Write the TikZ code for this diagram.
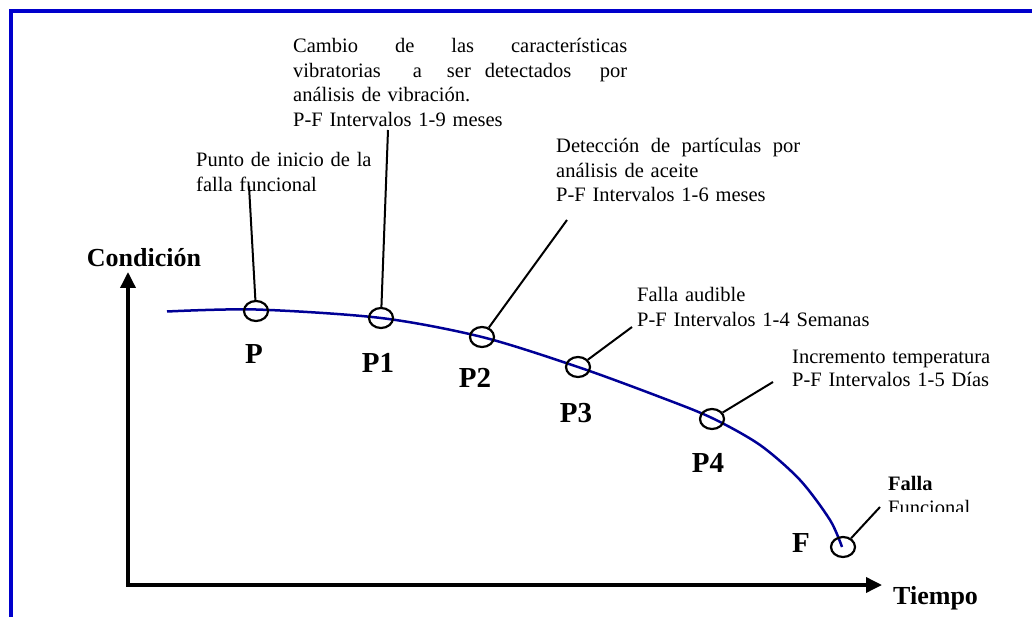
\documentclass[tikz,border=0pt]{standalone}
\usepackage{fontspec}
\setmainfont{Liberation Serif}
\usetikzlibrary{shapes.geometric,arrows.meta}
\definecolor{framecol}{RGB}{0,0,204}
\definecolor{curvecol}{RGB}{0,0,150}
\begin{document}
\begin{tikzpicture}[x=1pt,y=-1pt,
  ring/.style={draw, ellipse, line width=2.2pt, minimum width=24pt, minimum height=20pt, inner sep=0pt},
  lead/.style={draw, line width=2pt},
  note/.style={anchor=base west, inner sep=0pt, align=left, font=\fontsize{20.5}{24.5}\selectfont},
  lbl/.style={anchor=base, inner sep=0pt, font=\fontsize{29}{29}\selectfont\bfseries},
  axlbl/.style={inner sep=0pt, font=\fontsize{26}{26}\selectfont\bfseries},
  axis/.style={line width=3.5pt, -{Triangle[length=16pt,width=15pt]}},
  frame/.style={draw=framecol, line width=4pt}]
\useasboundingbox (0,0) rectangle (1032,617);
% frame
\draw[frame] (11,617) -- (11,11) -- (1032,11);
% axes
\coordinate (O) at (128,585);
\coordinate (ytip) at (128,272);
\coordinate (xtip) at (882,585);
\draw[axis] (O) -- (ytip);
\draw[axis] ([xshift=-1.75pt]O) -- (xtip);
\node[axlbl, anchor=base] (cond) at (144,266.7) {Condición};
\node[axlbl, anchor=base west] (tiempo) at (893,604) {Tiempo};
% curve
\draw[curvecol, line width=2.5pt] plot[smooth, tension=0.5] coordinates
  {(167,311.5) (256,309.5) (381,318) (482,337) (578,367) (660,397) (712,418) (760,445) (800,480) (830,520) (842,547)};
% circles
\node[ring] (P)  at (256,311) {};
\node[ring] (P1) at (381,318) {};
\node[ring] (P2) at (482,337) {};
\node[ring] (P3) at (578,367) {};
\node[ring] (P4) at (712,419) {};
\node[ring] (F)  at (843,547) {};
% labels
\node[lbl] (lP)  at (254,363) {P};
\node[lbl] (lP1) at (378,372) {P1};
\node[lbl] (lP2) at (475,387) {P2};
\node[lbl] (lP3) at (576,422) {P3};
\node[lbl] (lP4) at (708,472) {P4};
\node[lbl] (lF)  at (801,552) {F};
% notes
\node[note, text width=340pt] (nP1) at (293,53)
  {\makebox[334pt][l]{Cambio\hfill de\hfill las\hfill características}\\
   \makebox[334pt][l]{vibratorias\hspace{32pt}a\hspace{25pt}ser\hspace{14pt}detectados\hfill por}\\
   análisis de vibración.\\
   P-F Intervalos 1-9 meses};
\node[note, text width=200pt] (nP) at (196,166.7)
  {Punto de inicio de la\\falla funcional};
\node[note, text width=260pt] (nP2) at (556,153)
  {\makebox[244pt][l]{Detección\hfill de\hfill partículas\hfill por}\\análisis de aceite\\P-F Intervalos 1-6 meses};
\node[note, text width=300pt] (nP3) at (637,301.7)
  {Falla audible\\P-F Intervalos 1-4 Semanas};
\node[note, text width=260pt] (nP4) at (792,363.3)
  {Incremento temperatura\\[-1pt]P-F Intervalos 1-5 Días};
\node[note, font=\fontsize{20.5}{24.5}\selectfont\bfseries] (nF) at (888,490.7) {Falla};
\begin{scope}
\clip (880,494) rectangle (1032,511.7);
\node[note] (nF2) at (888,514.5) {Funcional};
\end{scope}
% leaders
\coordinate (tP)  at (249,186);
\coordinate (tP1) at (388,130);
\coordinate (tP2) at (567,220);
\coordinate (tP3) at (632,327);
\coordinate (tP4) at (773,382);
\coordinate (tF)  at (880,507);
\draw[lead] (P) -- (tP);
\draw[lead] (P1) -- (tP1);
\draw[lead] (P2) -- (tP2);
\draw[lead] (P3) -- (tP3);
\draw[lead] (P4) -- (tP4);
\draw[lead] (F) -- (tF);
\end{tikzpicture}
\end{document}
